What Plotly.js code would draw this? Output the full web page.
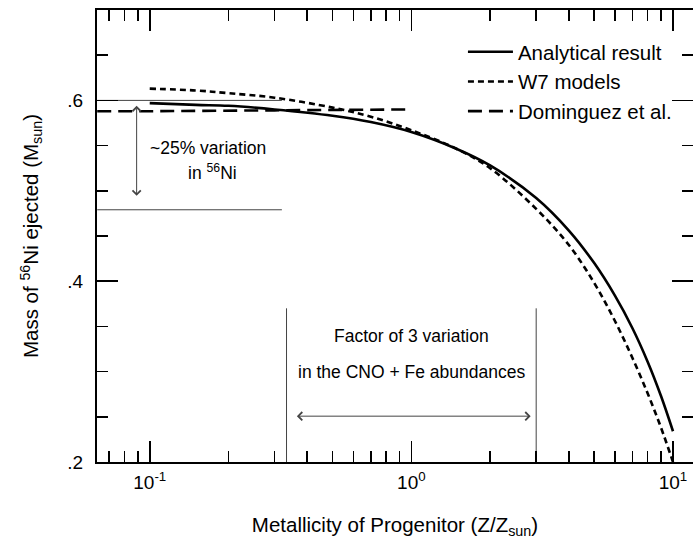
<!DOCTYPE html>
<html>
<head>
<meta charset="utf-8">
<script src="https://cdn.plot.ly/plotly-3.0.1.min.js"></script>
<style>html,body{margin:0;padding:0;background:#fff;overflow:hidden;}#chart{width:693px;height:539px;}</style>
</head>
<body>
<div id="chart"></div>
<script>
// Metallicity (Z/Zsun) and 56Ni mass (Msun)
const zAnalytic = [0.1, 0.15, 0.2, 0.3, 0.5, 0.7, 1, 1.5, 2, 3, 4, 5, 6, 7, 8, 9, 10];
const mAnalytic = [0.597, 0.595, 0.594, 0.590, 0.583, 0.576, 0.565, 0.546, 0.528, 0.492, 0.456, 0.420, 0.384, 0.348, 0.311, 0.273, 0.234];
const zW7 = [0.1, 0.15, 0.2, 0.3, 0.5, 0.7, 1, 1.5, 2, 3, 4, 5, 6, 7, 8, 9, 10];
const mW7 = [0.613, 0.611, 0.608, 0.603, 0.592, 0.582, 0.567, 0.546, 0.525, 0.480, 0.440, 0.398, 0.356, 0.315, 0.276, 0.238, 0.200];
const zDominguez = [0.063, 0.1, 0.3, 1.0];
const mDominguez = [0.588, 0.588, 0.589, 0.590];
const seriesNames = ['Analytical result', 'W7 models', 'Dominguez et al.'];
// reference markers: factor-of-3 bounds and ~25% variation levels
const factorBounds = [1/3, 3];
const factorLineTop = 0.37;
const niLevels = [0.6, 0.479];
const niLineSpan = [0.063, 0.32];
const xTickVals = [0.1, 1, 10];
const xTickText = ['10<sup>-1</sup>', '10<sup>0</sup>', '10<sup>1</sup>'];
const yTickVals = [0.2, 0.4, 0.6];
const yTickText = ['.2', '.4', '.6'];

const FONT = 'Liberation Sans, Arial, Helvetica, sans-serif';
const thin = {color: '#444', width: 1};

const traces = [
  {x: zAnalytic, y: mAnalytic, name: seriesNames[0], mode: 'lines', line: {color: '#000', width: 2.6, shape: 'spline'}},
  {x: zW7, y: mW7, name: seriesNames[1], mode: 'lines', line: {color: '#000', width: 2.6, dash: '6px,4px', shape: 'spline'}},
  {x: zDominguez, y: mDominguez, name: seriesNames[2], mode: 'lines', line: {color: '#000', width: 2.6, dash: '14px,7px'}},
];
factorBounds.forEach(v => traces.push({x: [v, v], y: [0.2, factorLineTop], mode: 'lines', line: thin, showlegend: false, hoverinfo: 'skip'}));
niLevels.forEach(v => traces.push({x: niLineSpan, y: [v, v], mode: 'lines', line: thin, showlegend: false, hoverinfo: 'skip'}));

const axBase = {
  showline: true, linecolor: '#000', linewidth: 2, mirror: 'ticks',
  ticks: 'inside', ticklen: 21, tickwidth: 1.6, tickcolor: '#000',
  showgrid: false, zeroline: false,
  tickfont: {family: FONT, size: 19, color: '#000'}
};

const layout = {
  width: 693, height: 539,
  margin: {l: 97, r: 0, t: 10, b: 77},
  paper_bgcolor: '#fff', plot_bgcolor: '#fff',
  font: {family: FONT, color: '#000'},
  xaxis: Object.assign({}, axBase, {
    type: 'log', range: [-1.2015, 1.0765],
    tickmode: 'array', tickvals: xTickVals, ticktext: xTickText,
    ticklabelstandoff: 2,
    minor: {ticks: 'inside', ticklen: 11, tickwidth: 1.6, tickcolor: '#000', dtick: 'D1', showgrid: false},
    title: {text: 'Metallicity of Progenitor (Z/Z<sub>sun</sub>)', font: {family: FONT, size: 20.5, color: '#000'}, standoff: 26}
  }),
  yaxis: Object.assign({}, axBase, {
    range: [0.2, 0.7],
    tickmode: 'array', tickvals: yTickVals, ticktext: yTickText,
    ticklabelstandoff: 8,
    minor: {ticks: 'inside', ticklen: 11, tickwidth: 1.6, tickcolor: '#000', dtick: 0.05, tick0: 0, showgrid: false},
    title: {text: 'Mass of <sup>56</sup>Ni ejected (M<sub>sun</sub>)', font: {family: FONT, size: 20.5, color: '#000'}, standoff: 23}
  }),
  legend: {
    x: 0.614, y: 0.9514, xanchor: 'left', yanchor: 'top',
    bgcolor: 'rgba(0,0,0,0)', borderwidth: 0, itemwidth: 45,
    font: {family: FONT, size: 20.5, color: '#000'}
  },
  annotations: [
    {xref: 'x', yref: 'y', x: -1.05, y: 0.594, ax: -1.05, ay: 0.485, axref: 'x', ayref: 'y',
     showarrow: true, arrowside: 'end+start', arrowhead: 4, startarrowhead: 4, arrowsize: 1.6, startarrowsize: 1.6, arrowwidth: 1, arrowcolor: '#444', text: ' '},
    {xref: 'x', yref: 'y', x: 0.456, y: 0.2507, ax: -0.449, ay: 0.2507, axref: 'x', ayref: 'y',
     showarrow: true, arrowside: 'end+start', arrowhead: 4, startarrowhead: 4, arrowsize: 1.6, startarrowsize: 1.6, arrowwidth: 1, arrowcolor: '#444', text: ' '},
    {xref: 'x', yref: 'y', x: -0.778, y: 0.5478, text: '~25% variation', showarrow: false, font: {family: FONT, size: 17.5, color: '#000'}},
    {xref: 'x', yref: 'y', x: -0.759, y: 0.5212, text: 'in <sup>56</sup>Ni', showarrow: false, font: {family: FONT, size: 17.5, color: '#000'}},
    {xref: 'x', yref: 'y', x: 0, y: 0.3397, text: 'Factor of 3 variation', showarrow: false, font: {family: FONT, size: 17.5, color: '#000'}},
    {xref: 'x', yref: 'y', x: 0, y: 0.2998, text: 'in the CNO + Fe abundances', showarrow: false, font: {family: FONT, size: 17.5, color: '#000'}}
  ]
};

Plotly.newPlot('chart', traces, layout, {displayModeBar: false, staticPlot: true});
</script>
</body>
</html>
